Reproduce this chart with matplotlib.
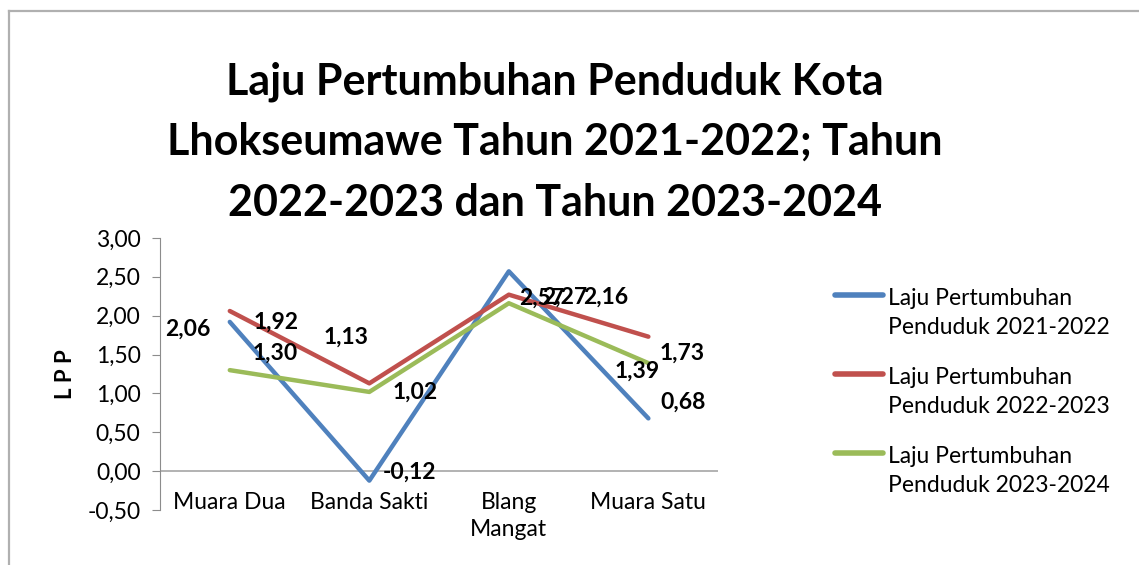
import numpy as np
import matplotlib.pyplot as plt
from matplotlib.lines import Line2D

plt.rcParams['font.family'] = ['Lato', 'DejaVu Sans']

kecamatan = ['Muara Dua', 'Banda Sakti', 'Blang\nMangat', 'Muara Satu']
lpp_2122 = [1.92, -0.12, 2.57, 0.68]
lpp_2223 = [2.06, 1.13, 2.27, 1.73]
lpp_2324 = [1.30, 1.02, 2.16, 1.39]
nama_seri = ['Laju Pertumbuhan\nPenduduk 2021-2022',
             'Laju Pertumbuhan\nPenduduk 2022-2023',
             'Laju Pertumbuhan\nPenduduk 2023-2024']
yticks = [-0.5, 0, 0.5, 1.0, 1.5, 2.0, 2.5, 3.0]

warna = ['#4f81bd', '#c0504d', '#9bbb59']
# label offsets in points (dx, dy) per series per point
geser = [
    [(33, 0), (29, 6), (24, -19), (25, 12)],
    [(-30, -13), (-17, 33), (40, -2), (24, -12)],
    [(33, 12), (33, 0), (70, 4), (-8, -6)],
]

fig = plt.figure(figsize=(11.39, 5.65), dpi=100)
# only top and left edge of the frame are visible in the original
fig.lines.append(Line2D([0.0079, 1.0], [0.9814, 0.9814], transform=fig.transFigure,
                        color='#b0b0b0', linewidth=1.6))
fig.lines.append(Line2D([0.0079, 0.0079], [0.0, 0.9814], transform=fig.transFigure,
                        color='#b0b0b0', linewidth=1.6))
ax = fig.add_axes([0.1405, 0.097, 0.49, 0.482])

x = np.arange(len(kecamatan))
semua = [lpp_2122, lpp_2223, lpp_2324]
for i, seri in enumerate(semua):
    ax.plot(x, seri, color=warna[i], linewidth=3.2, solid_capstyle='round')
for i, seri in enumerate(semua):
    for j, v in enumerate(seri):
        teks = ('%.2f' % v).replace('.', ',')
        ax.annotate(teks, (x[j], v), xytext=geser[i][j], textcoords='offset points',
                    ha='center', va='center', fontsize=16.5, fontweight='bold')

ax.set_xlim(-0.5, 3.5)
ax.set_ylim(-0.5, 3.0)
ax.set_yticks(yticks)
ax.set_yticklabels([('%.2f' % t).replace('.', ',') for t in yticks], fontsize=16.5)
ax.set_xticks(x)
ax.set_xticklabels(kecamatan, fontsize=16.5, linespacing=1.35)
ax.tick_params(axis='x', length=0, pad=-13)
ax.tick_params(axis='y', length=6, color='#8c8c8c', direction='out', pad=8)
ax.axhline(0, color='#a6a6a6', linewidth=1.2, zorder=0)
for s in ['top', 'right', 'bottom']:
    ax.spines[s].set_visible(False)
ax.spines['left'].set_color('#8c8c8c')
ax.set_ylabel('L P P', fontsize=16, fontweight='bold', labelpad=8)

fig.text(0.487, 0.749, 'Laju Pertumbuhan Penduduk Kota\nLhokseumawe Tahun 2021-2022; Tahun\n2022-2023 dan Tahun 2023-2024',
         ha='center', va='center', fontsize=31, fontweight='bold', linespacing=1.62)

# legend drawn by hand so the line sits on the first text row
baris_y = [1 - 295 / 565, 1 - 374 / 565, 1 - 453 / 565]
for i, nama in enumerate(nama_seri):
    fig.lines.append(Line2D([0.733, 0.775], [baris_y[i], baris_y[i]], transform=fig.transFigure,
                            color=warna[i], linewidth=4, solid_capstyle='round'))
    fig.text(0.7796, baris_y[i] + 0.012, nama, ha='left', va='top', fontsize=16.5,
             linespacing=1.45)

fig.savefig('out.png', dpi=100)
